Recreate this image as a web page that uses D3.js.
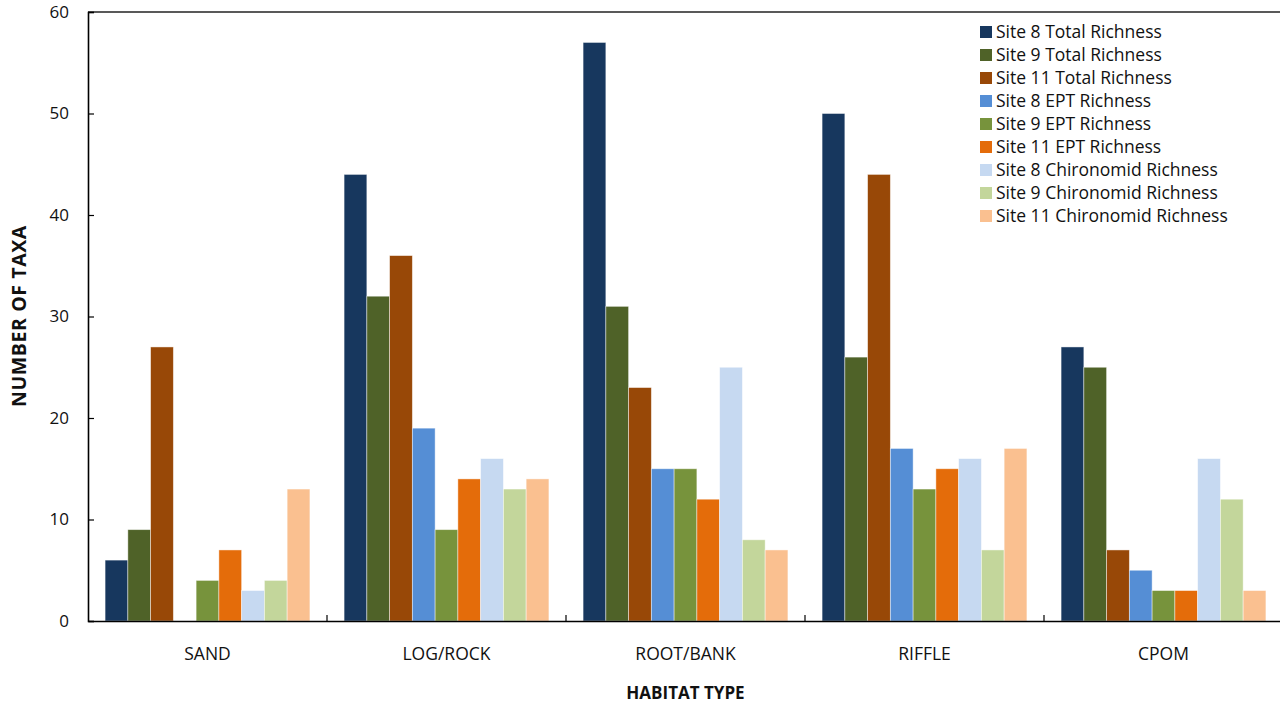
<!DOCTYPE html>
<html><head><meta charset="utf-8">
<script src="https://cdn.jsdelivr.net/npm/d3@7"></script>
<style>body{margin:0;background:#fff}svg{display:block}</style>
</head><body><svg id="c" width="1280" height="707"></svg>
<script>
const categories = ["SAND","LOG/ROCK","ROOT/BANK","RIFFLE","CPOM"];
const seriesNames = ["Site 8 Total Richness","Site 9 Total Richness","Site 11 Total Richness","Site 8 EPT Richness","Site 9 EPT Richness","Site 11 EPT Richness","Site 8 Chironomid Richness","Site 9 Chironomid Richness","Site 11 Chironomid Richness"];
const site8Total = [6,44,57,50,27];
const site9Total = [9,32,31,26,25];
const site11Total = [27,36,23,44,7];
const site8EPT = [0,19,15,17,5];
const site9EPT = [4,9,15,13,3];
const site11EPT = [7,14,12,15,3];
const site8Chir = [3,16,25,16,16];
const site9Chir = [4,13,8,7,12];
const site11Chir = [13,14,7,17,3];
const yTicks = [0,10,20,30,40,50,60];
const colors = ["#17375E","#4F6228","#984807","#558ED5","#77933C","#E46C0A","#C6D9F1","#C3D69B","#FAC090"];
const series = [site8Total,site9Total,site11Total,site8EPT,site9EPT,site11EPT,site8Chir,site9Chir,site11Chir];

(function(){
const svg = d3.select("#c");
const mL = 88, mR = 1283, mT = 12, mB = 621;
const font = "'Open Sans', sans-serif";
const x = d3.scaleBand().domain(categories).range([mL,mR]).paddingInner(0.143).paddingOuter(0.0715);
const xOuter = d3.scaleBand().domain(categories).range([mL,mR]);
const x1 = d3.scaleBand().domain(d3.range(series.length)).range([0,x.bandwidth()]);
const y = d3.scaleLinear().domain([0,60]).range([mB,mT]);

svg.append("line").attr("x1",mL).attr("x2",1280).attr("y1",mT).attr("y2",mT).attr("stroke","#222").attr("stroke-width",1.3);

const g = svg.append("g");
categories.forEach((c,ci)=>{
  series.forEach((s,si)=>{
    if(s[ci]<=0) return;
    g.append("rect")
      .attr("x",x(c)+x1(si))
      .attr("y",y(s[ci]))
      .attr("width",x1.bandwidth())
      .attr("height",y(0)-y(s[ci]))
      .attr("fill",colors[si])
      .attr("stroke","rgba(255,255,255,0.55)")
      .attr("stroke-width",0.8);
  });
});

const yAxis = svg.append("g").attr("transform",`translate(${mL},0)`)
  .call(d3.axisLeft(y).tickValues(yTicks).tickSize(-6).tickPadding(19));
yAxis.select(".domain").attr("stroke","#000").attr("stroke-width",1.6);
yAxis.selectAll(".tick line").attr("stroke","#000").attr("stroke-width",1.2);
yAxis.selectAll("text").attr("font-family",font).attr("font-size",17).attr("fill","#111");

const xAxis = svg.append("g").attr("transform",`translate(0,${mB})`)
  .call(d3.axisBottom(xOuter).tickSize(0).tickPadding(27));
xAxis.select(".domain").attr("stroke","#000").attr("stroke-width",1.6);
xAxis.selectAll("text").attr("font-family",font).attr("font-size",17.5).attr("fill","#111");
categories.slice(1).forEach(c=>{
  svg.append("line").attr("x1",xOuter(c)).attr("x2",xOuter(c)).attr("y1",mB).attr("y2",mB-6).attr("stroke","#000").attr("stroke-width",1.2);
});

svg.append("text").attr("transform",`translate(26,316) rotate(-90)`)
  .attr("text-anchor","middle").attr("font-family",font).attr("font-weight","bold").attr("font-size",19.5)
  .attr("letter-spacing",0.6).attr("fill","#111").text("NUMBER OF TAXA");
svg.append("text").attr("x",(mL+mR)/2).attr("y",699).attr("text-anchor","middle")
  .attr("font-family",font).attr("font-weight","bold").attr("font-size",17).attr("fill","#111").text("HABITAT TYPE");

const lg = svg.append("g");
seriesNames.forEach((n,i)=>{
  const yy = 32 + i*23;
  lg.append("rect").attr("x",980).attr("y",yy-6).attr("width",12).attr("height",12).attr("fill",colors[i]);
  lg.append("text").attr("x",996).attr("y",yy).attr("dy","0.35em").attr("font-family",font).attr("font-size",17.5).attr("fill","#111").text(n);
});
})();
</script></body></html>
